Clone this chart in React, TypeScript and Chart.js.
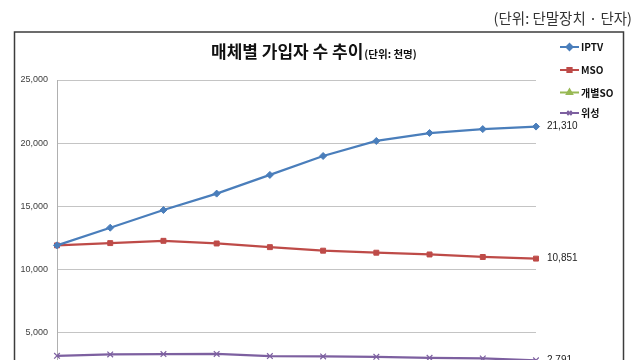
import React, { useEffect, useRef } from "react";
import { Chart, registerables } from "chart.js";
import { drawPoint } from "chart.js/helpers";

Chart.register(...registerables);

const categories = ["2014 상", "2014 하", "2015 상", "2015 하", "2016 상", "2016 하", "2017 상", "2017 하", "2018 상", "2018 하"];
const seriesNames = ["IPTV", "MSO", "개별SO", "위성"];
const iptv = [11900, 13300, 14700, 16000, 17480, 18980, 20170, 20800, 21110, 21310];
const mso = [11900, 12080, 12260, 12050, 11760, 11480, 11320, 11180, 10980, 10851];
const indivSO = [1340, 1300, 1260, 1220, 1180, 1150, 1120, 1100, 1080, 1050];
const satellite = [3150, 3260, 3290, 3300, 3130, 3100, 3070, 2990, 2940, 2791];
const yTicks = [0, 5000, 10000, 15000, 20000, 25000];
const titleMain = "매체별 가입자 수 추이";
const titleSub = "(단위: 천명)";
const unitLabel = "(단위: 단말장치 · 단자)";

const colors = ["#4A7EBB", "#BE4B48", "#98B954", "#7D60A0"];
const styles = ["rectRot", "rect", "triangle", "crossRot"];
const radii = [3.5, 3.5, 4, 4];
const endLabelIdx = [0, 1, 3];

const KFONT = '"Noto Sans CJK KR", "Noto Sans", sans-serif';
const NFONT = '"Liberation Sans", Arial, sans-serif';

const fmt = (v: number) => v.toLocaleString("en-US");

const overlayPlugin = {
  id: "overlay",
  beforeDraw(chart: any) {
    const ctx = chart.ctx;
    ctx.save();
    ctx.fillStyle = "#ffffff";
    ctx.fillRect(0, 0, chart.width, chart.height);
    ctx.strokeStyle = "#3c3c3c";
    ctx.lineWidth = 1.5;
    ctx.strokeRect(14.5, 32, 609, 600);
    ctx.restore();
  },
  afterDraw(chart: any) {
    const ctx = chart.ctx;
    ctx.save();
    // unit label
    ctx.fillStyle = "#333333";
    ctx.font = `14.5px ${KFONT}`;
    ctx.textAlign = "right";
    ctx.textBaseline = "middle";
    ctx.fillText(unitLabel, 632, 18.5);
    // title
    ctx.textAlign = "left";
    ctx.textBaseline = "alphabetic";
    ctx.fillStyle = "#111111";
    ctx.font = `bold 17px ${KFONT}`;
    const x0 = 211;
    ctx.fillText(titleMain, x0, 58);
    const w = ctx.measureText(titleMain).width;
    ctx.font = `bold 10.5px ${KFONT}`;
    ctx.fillText(titleSub, x0 + w + 1, 58);
    // legend
    const rows = [47, 70, 92.5, 113];
    chart.data.datasets.forEach((ds: any, i: number) => {
      const y = rows[i];
      ctx.strokeStyle = colors[i];
      ctx.lineWidth = 2;
      ctx.beginPath();
      ctx.moveTo(560, y);
      ctx.lineTo(579, y);
      ctx.stroke();
      ctx.fillStyle = colors[i];
      ctx.strokeStyle = colors[i];
      drawPoint(ctx, { pointStyle: styles[i], radius: 3, borderWidth: 1 }, 569.5, y);
      ctx.fillStyle = "#111111";
      ctx.font = `bold 10px ${KFONT}`;
      ctx.textAlign = "left";
      ctx.textBaseline = "middle";
      ctx.fillText(ds.label, 581, y + 0.5);
    });
    // end value labels
    ctx.font = `10px ${NFONT}`;
    ctx.fillStyle = "#222222";
    ctx.textAlign = "left";
    ctx.textBaseline = "middle";
    endLabelIdx.forEach((i) => {
      const meta = chart.getDatasetMeta(i);
      const pts = meta.data;
      const last = pts[pts.length - 1];
      const data = chart.data.datasets[i].data;
      ctx.fillText(fmt(data[data.length - 1]), last.x + 11, last.y);
    });
    ctx.restore();
  },
};

export default function App() {
  const ref = useRef<HTMLCanvasElement | null>(null);
  useEffect(() => {
    if (!ref.current) return;
    const seriesData = [iptv, mso, indivSO, satellite];
    const chart = new Chart(ref.current, {
      type: "line",
      data: {
        labels: categories,
        datasets: seriesData.map((d, i) => ({
          label: seriesNames[i],
          data: d,
          borderColor: colors[i],
          backgroundColor: colors[i],
          pointBackgroundColor: colors[i],
          pointBorderColor: colors[i],
          pointStyle: styles[i] as any,
          pointRadius: radii[i],
          pointBorderWidth: i === 3 ? 1.2 : 1,
          borderWidth: 2.25,
          tension: 0,
          fill: false,
        })),
      },
      options: {
        responsive: false,
        animation: false,
        devicePixelRatio: 1,
        layout: { padding: { left: 0, top: 80, right: 104, bottom: 4.5 } },
        plugins: {
          legend: { display: false },
          tooltip: { enabled: false },
          title: { display: false },
        },
        scales: {
          x: { display: false },
          y: {
            min: yTicks[0],
            max: yTicks[yTicks.length - 1],
            afterBuildTicks: (s: any) => {
              s.ticks = yTicks.map((v) => ({ value: v }));
            },
            afterFit: (s: any) => {
              s.width = 57;
            },
            ticks: {
              padding: 9,
              color: "#404040",
              font: { size: 9, family: NFONT },
              callback: (v: any) => fmt(Number(v)),
            },
            grid: { color: "#c4c4c4", lineWidth: 1, drawTicks: false },
            border: { display: true, color: "#b0b0b0", width: 1 },
          },
        },
      },
      plugins: [overlayPlugin],
    });
    return () => chart.destroy();
  }, []);
  return (
    <div style={{ position: "fixed", left: 0, top: 0, width: 640, height: 360, overflow: "hidden", background: "#fff" }}>
      <canvas ref={ref} width={640} height={410} style={{ display: "block", width: 640, height: 410 }} />
    </div>
  );
}
